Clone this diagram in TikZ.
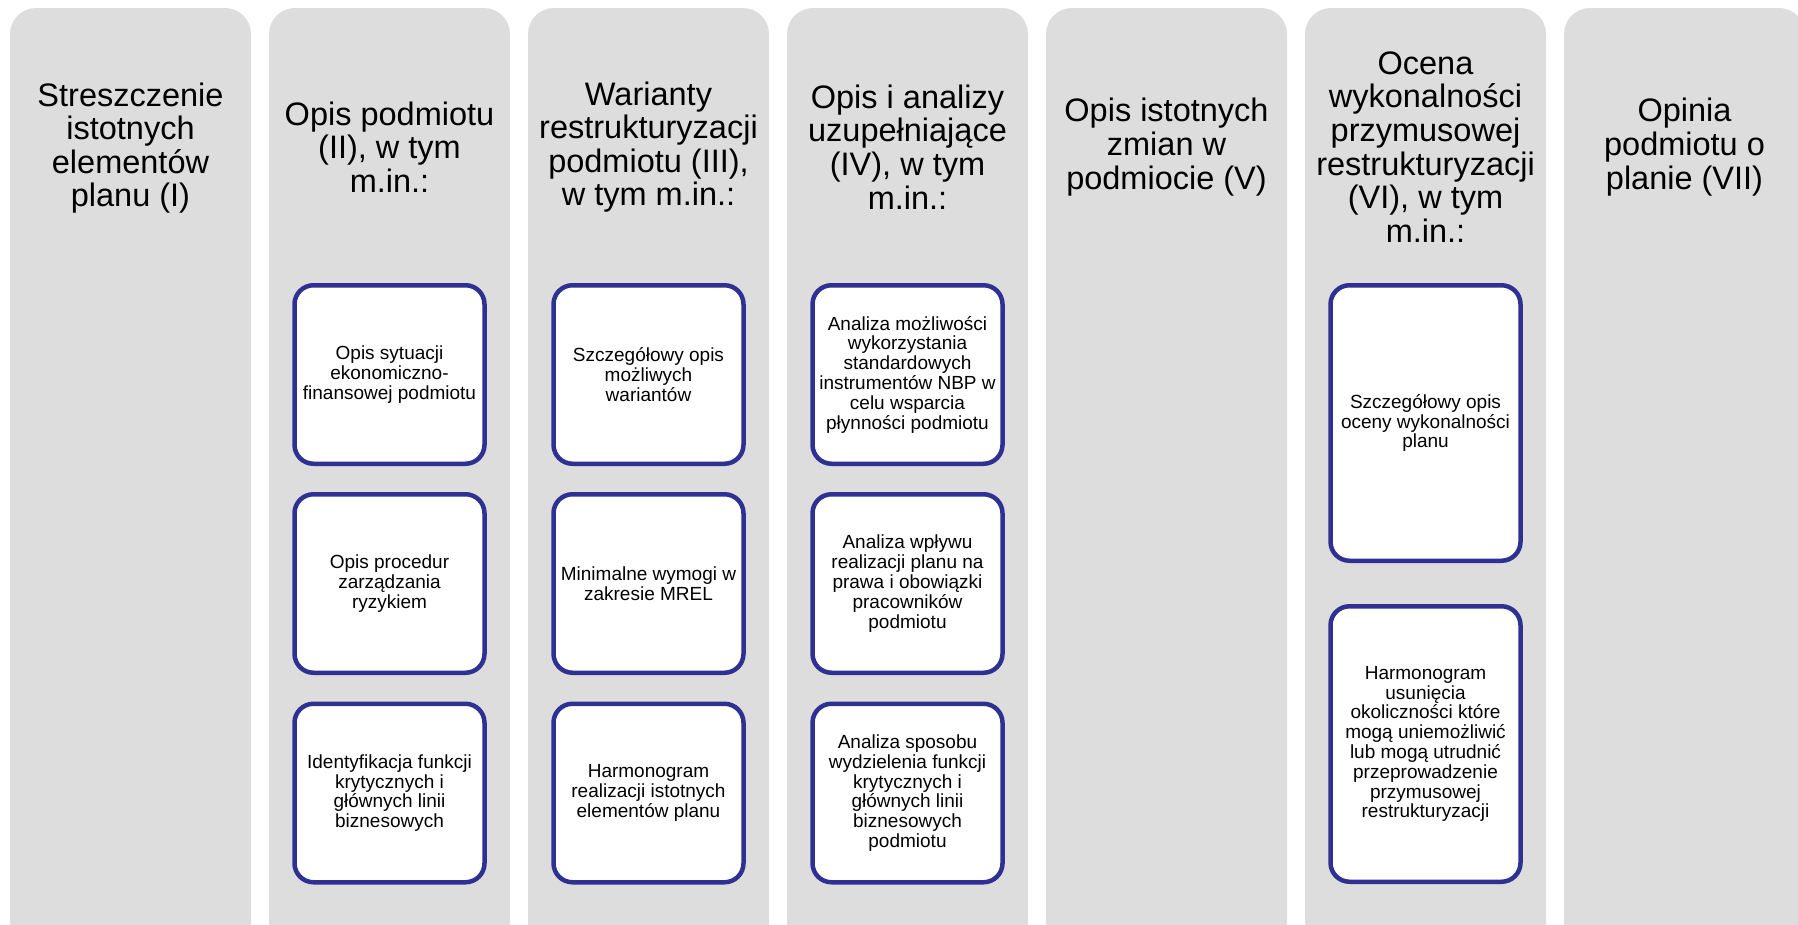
\documentclass[tikz,border=0pt]{standalone}
\usepackage{fontspec}
\setmainfont{Liberation Sans}
\definecolor{colgray}{RGB}{221,221,221}
\definecolor{boxblue}{RGB}{46,49,146}
\tikzset{
  colbox/.style={fill=colgray, draw=none, rounded corners=26pt, minimum width=241pt, minimum height=940pt, inner sep=0pt},
  headtext/.style={align=center, inner sep=0pt, text=black, font=\fontsize{32.5}{33.6}\selectfont},
  itembox/.style={draw=boxblue, line width=4.5pt, fill=white, rounded corners=19pt, minimum width=190pt, align=center, inner sep=0pt, font=\fontsize{19}{19.8}\selectfont},
  smallbox/.style={itembox, minimum height=178.5pt},
  tallbox/.style={itembox, minimum height=275.5pt}
}
\begin{document}
\begin{tikzpicture}[x=1pt, y=-1pt]
\useasboundingbox (0,0) rectangle (1798,924);
\clip (0,0) rectangle (1798,924);
% columns
\foreach \i in {1,...,7} {
  \node[colbox] (c\i) at ({10+259*(\i-1)+120.5}, 478) {};
}
% headers
\node[headtext] (h1) at (130.5,148) {Streszczenie\\istotnych\\elementów\\planu (I)};
\node[headtext] (h2) at (389.5,147) {Opis podmiotu\\(II), w tym\\m.in.:};
\node[headtext] (h3) at (648.5,147) {Warianty\\restrukturyzacji\\podmiotu (III),\\w tym m.in.:};
\node[headtext] (h4) at (907.5,147) {Opis i analizy\\uzupełniające\\(IV), w tym\\m.in.:};
\node[headtext] (h5) at (1166.5,147) {Opis istotnych\\zmian w\\podmiocie (V)};
\node[headtext] (h6) at (1425.5,147) {Ocena\\wykonalności\\przymusowej\\restrukturyzacji\\(VI), w tym\\m.in.:};
\node[headtext] (h7) at (1684.5,147) {Opinia\\podmiotu o\\planie (VII)};
% column II
\node[smallbox] (b21) at (389.5,374.5) {Opis sytuacji\\ekonomiczno-\\finansowej podmiotu};
\node[smallbox] (b22) at (389.5,583.5) {Opis procedur\\zarządzania\\ryzykiem};
\node[smallbox] (b23) at (389.5,793) {Identyfikacja funkcji\\krytycznych i\\głównych linii\\biznesowych};
% column III
\node[smallbox] (b31) at (648.5,374.5) {Szczegółowy opis\\możliwych\\wariantów};
\node[smallbox] (b32) at (648.5,583.5) {Minimalne wymogi w\\zakresie MREL};
\node[smallbox] (b33) at (648.5,793) {Harmonogram\\realizacji istotnych\\elementów planu};
% column IV
\node[smallbox] (b41) at (907.5,374.5) {Analiza możliwości\\wykorzystania\\standardowych\\instrumentów NBP w\\celu wsparcia\\płynności podmiotu};
\node[smallbox] (b42) at (907.5,583.5) {Analiza wpływu\\realizacji planu na\\prawa i obowiązki\\pracowników\\podmiotu};
\node[smallbox] (b43) at (907.5,793) {Analiza sposobu\\wydzielenia funkcji\\krytycznych i\\głównych linii\\biznesowych\\podmiotu};
% column VI
\node[tallbox] (b61) at (1425.5,423) {Szczegółowy opis\\oceny wykonalności\\planu};
\node[tallbox] (b62) at (1425.5,744) {Harmonogram\\usunięcia\\okoliczności które\\mogą uniemożliwić\\lub mogą utrudnić\\przeprowadzenie\\przymusowej\\restrukturyzacji};
\end{tikzpicture}
\end{document}
